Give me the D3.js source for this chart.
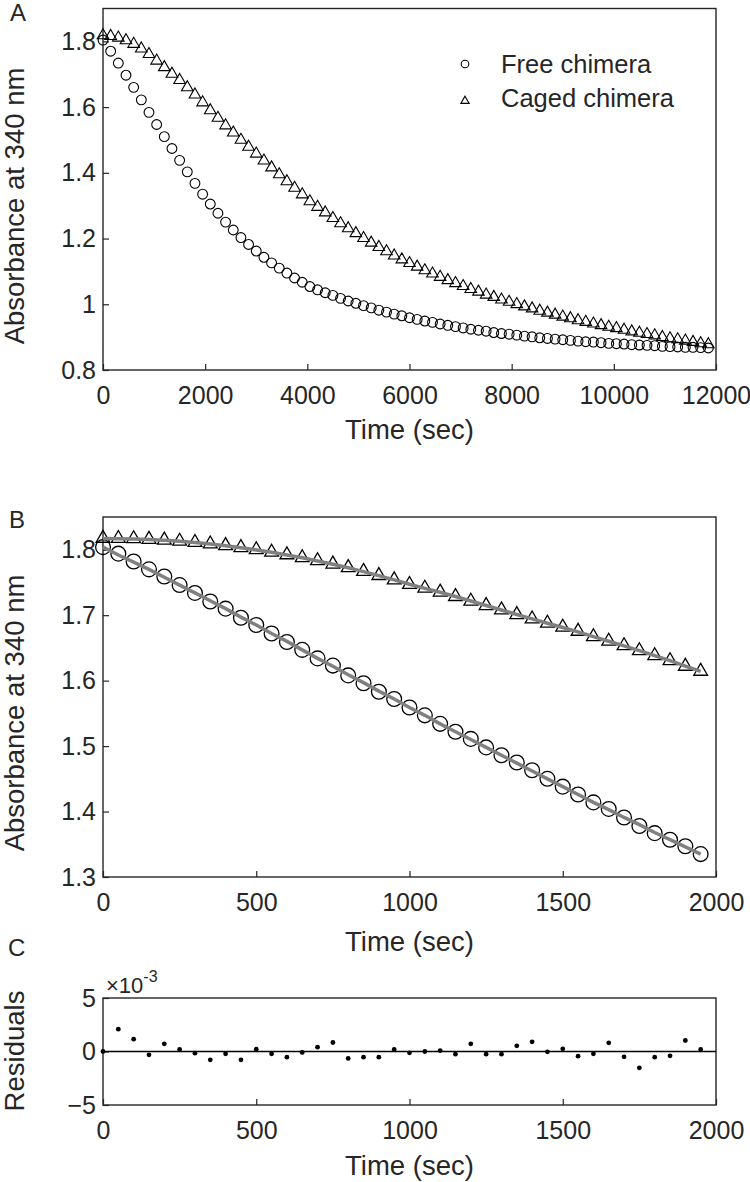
<!DOCTYPE html>
<html><head><meta charset="utf-8">
<script src="https://cdnjs.cloudflare.com/ajax/libs/d3/7.8.5/d3.min.js"></script>
<style>body{margin:0;background:#fff}svg{display:block}text{font-family:"Liberation Sans",Arial,sans-serif;fill:#262626}</style>
</head><body>
<script>
// ---------- data ----------
const timeA = [0,150,300,450,600,750,900,1050,1200,1350,1500,1650,1800,1950,
 2100,2250,2400,2550,2700,2850,3000,3150,3300,3450,3600,3750,3900,4050,
 4200,4350,4500,4650,4800,4950,5100,5250,5400,5550,5700,5850,6000,6150,6300,6450,6600,6750,6900,7050,7200,7350,
 7500,7650,7800,7950,8100,8250,8400,8550,8700,8850,9000,9150,9300,9450,9600,9750,9900,10050,10200,10350,
 10500,10650,10800,10950,11100,11250,11400,11550,11700,11850];
const freeA = [1.804,1.770,1.734,1.697,1.660,1.622,1.584,1.547,1.510,1.474,1.438,1.403,1.368,1.335,
 1.305,1.277,1.250,1.226,1.203,1.182,1.162,1.143,1.126,1.110,1.095,1.080,1.067,1.054,
 1.044,1.035,1.027,1.018,1.010,1.003,0.996,0.989,0.982,0.976,0.970,0.965,0.959,0.954,0.949,0.945,0.940,0.936,0.932,0.928,0.924,0.921,
 0.918,0.914,0.911,0.909,0.906,0.903,0.901,0.898,0.896,0.894,0.892,0.890,0.888,0.886,0.885,0.883,0.881,0.880,0.879,0.877,
 0.876,0.875,0.874,0.872,0.871,0.870,0.869,0.869,0.868,0.867];
const cagedA = [1.818,1.816,1.811,1.803,1.792,1.778,1.761,1.741,1.721,1.701,1.682,1.660,1.638,1.614,
 1.590,1.567,1.544,1.522,1.500,1.479,1.458,1.437,1.416,1.395,1.374,1.354,1.334,1.313,
 1.296,1.279,1.262,1.246,1.231,1.216,1.201,1.187,1.174,1.161,1.148,1.136,1.125,
 1.114,1.103,1.093,1.083,1.073,1.064,1.055,1.046,1.038,1.029,1.022,1.014,1.007,
 1.000,0.993,0.987,0.980,0.974,0.968,0.962,0.957,0.951,0.946,0.941,0.936,0.931,
 0.927,0.922,0.917,0.913,0.909,0.905,0.900,0.896,0.893,0.889,0.885,0.881,0.878];

const timeB = [0,50,100,150,200,250,300,350,400,450,500,550,600,650,700,750,800,850,900,950,
 1000,1050,1100,1150,1200,1250,1300,1350,1400,1450,1500,1550,1600,1650,1700,1750,1800,1850,1900,1950];
const freeB = [1.804,1.794,1.782,1.770,1.759,1.746,1.734,1.721,1.710,1.696,1.685,1.672,1.659,1.647,1.634,1.623,1.608,1.596,1.583,1.572,
 1.559,1.547,1.534,1.522,1.511,1.498,1.486,1.475,1.463,1.450,1.438,1.426,1.414,1.404,1.391,1.378,1.367,1.357,1.347,1.335];
const fitFreeB = [1.804,1.792,1.781,1.770,1.758,1.746,1.734,1.722,1.710,1.697,1.685,1.672,1.660,1.647,1.634,1.622,1.609,1.597,1.584,1.572,
 1.559,1.547,1.534,1.522,1.510,1.498,1.486,1.474,1.462,1.450,1.438,1.426,1.414,1.403,1.391,1.380,1.368,1.357,1.346,1.335];
const cagedB = [1.8175,1.8173,1.8168,1.8159,1.8147,1.8131,1.8112,1.8089,1.8063,1.8033,1.8000,1.7963,1.7923,1.7879,1.7832,1.7781,1.7727,1.7669,1.7606,1.7540,
 1.7469,1.7413,1.7352,1.7285,1.7214,1.7147,1.7081,1.7009,1.6943,1.6877,1.6816,1.6754,1.6672,1.6602,1.6534,1.6458,1.6381,1.6305,1.6219,1.6143];
const fitCagedB = [1.8170,1.8168,1.8163,1.8155,1.8143,1.8128,1.8109,1.8086,1.8060,1.8030,1.7997,1.7960,1.7920,1.7876,1.7829,1.7778,1.7724,1.7666,1.7604,1.7540,
 1.7472,1.7410,1.7350,1.7285,1.7216,1.7148,1.7080,1.7010,1.6944,1.6877,1.6812,1.6746,1.6672,1.6602,1.6532,1.6458,1.6382,1.6305,1.6222,1.6140];
const residuals = [0,2.09,1.15,-0.31,0.72,0.19,-0.16,-0.78,-0.22,-0.78,0.22,-0.22,-0.53,-0.09,0.40,0.84,-0.65,-0.53,-0.53,0.19,
 -0.12,0,0.09,-0.25,0.72,-0.25,-0.25,0.53,0.90,-0.03,0.25,-0.44,-0.22,0.81,-0.50,-1.53,-0.53,-0.40,1.03,0.19];

const xTicksA = [0,2000,4000,6000,8000,10000,12000];
const yTicksA = [0.8,1,1.2,1.4,1.6,1.8];
const xTicksB = [0,500,1000,1500,2000];
const yTicksB = [1.3,1.4,1.5,1.6,1.7,1.8];
const yTicksC = [-5,0,5];
const seriesNames = ["Free chimera","Caged chimera"];

// ---------- drawing ----------
const INK = "#262626";
const svg = d3.select("body").append("svg").attr("width",750).attr("height",1182);
svg.append("rect").attr("width",750).attr("height",1182).attr("fill","#fff");

const L = 103, R = 716;
function frame(x, y, xt, yt, ytFmt, top, bottom, xlabY, ylab, ylabY) {
  const g = svg.append("g");
  const ax = g.append("g").attr("transform",`translate(0,${bottom})`)
    .call(d3.axisBottom(x).tickValues(xt).tickSize(-6).tickFormat(d3.format("d")));
  ax.select(".domain").remove();
  ax.selectAll("line").attr("stroke",INK).attr("stroke-width",1.2);
  ax.selectAll("text").attr("dy",null).attr("y",34).attr("font-size",25).attr("fill",INK);
  const ay = g.append("g").attr("transform",`translate(${L},0)`)
    .call(d3.axisLeft(y).tickValues(yt).tickSize(-6).tickPadding(7).tickFormat(ytFmt));
  ay.select(".domain").remove();
  ay.selectAll("line").attr("stroke",INK).attr("stroke-width",1.2);
  ay.selectAll("text").attr("font-size",25).attr("fill",INK);
  g.selectAll("text").style("font-family",'"Liberation Sans",Arial,sans-serif');
  g.append("rect").attr("x",L).attr("y",top).attr("width",R-L).attr("height",bottom-top)
    .attr("fill","none").attr("stroke",INK).attr("stroke-width",1.4);
  g.append("text").attr("x",(L+R)/2).attr("y",xlabY).attr("text-anchor","middle")
    .attr("font-size",27.5).text("Time (sec)");
  g.append("text").attr("transform",`translate(24,${ylabY}) rotate(-90)`).attr("text-anchor","middle")
    .attr("font-size",27.5).text(ylab);
  return g;
}
const fmtA = d => d===1 ? "1" : d3.format(".1f")(d);

// Panel A
const xA = d3.scaleLinear().domain([0,12000]).range([L,R]);
const yA = d3.scaleLinear().domain([0.8,1.9]).range([370,8.5]);
frame(xA,yA,xTicksA,yTicksA,fmtA,8.5,370,439,"Absorbance at 340 nm",206);
const triA = d3.symbol(d3.symbolTriangle, 58);
const gA = svg.append("g");
gA.selectAll(".c").data(timeA).join("circle")
  .attr("cx",(d)=>xA(d)).attr("cy",(d,i)=>yA(freeA[i])).attr("r",4.9)
  .attr("fill","none").attr("stroke","#000").attr("stroke-width",1.1);
gA.selectAll(".t").data(timeA).join("path")
  .attr("d",triA).attr("transform",(d,i)=>`translate(${xA(d)},${yA(cagedA[i])})`)
  .attr("fill","none").attr("stroke","#000").attr("stroke-width",1.1);
svg.append("text").attr("x",10).attr("y",21).attr("font-size",24).text("A");

// Legend
const lg = svg.append("g");
lg.append("circle").attr("cx",465).attr("cy",64).attr("r",3.8).attr("fill","none").attr("stroke","#000").attr("stroke-width",1.1);
lg.append("path").attr("d",d3.symbol(d3.symbolTriangle,30)()).attr("transform","translate(465,101)")
  .attr("fill","none").attr("stroke","#000").attr("stroke-width",1.1);
lg.selectAll("text").data(seriesNames).join("text")
  .attr("x",501).attr("y",(d,i)=>73+i*34).attr("font-size",25.5).text(d=>d);

// Panel B
const xB = d3.scaleLinear().domain([0,2000]).range([L,R]);
const yB = d3.scaleLinear().domain([1.3,1.85]).range([877,517]);
frame(xB,yB,xTicksB,yTicksB,d3.format(".1f"),517,877,951,"Absorbance at 340 nm",713);
const gB = svg.append("g");
gB.selectAll("circle").data(timeB).join("circle")
  .attr("cx",d=>xB(d)).attr("cy",(d,i)=>yB(freeB[i])).attr("r",7.4)
  .attr("fill","none").attr("stroke","#000").attr("stroke-width",1.3);
const triB = d3.symbol(d3.symbolTriangle, 82);
gB.selectAll("path.t").data(timeB).join("path").attr("class","t")
  .attr("d",triB).attr("transform",(d,i)=>`translate(${xB(d)},${yB(cagedB[i])})`)
  .attr("fill","none").attr("stroke","#000").attr("stroke-width",1.3);
const lineB = (arr)=>d3.line().x(d=>xB(d)).y((d,i)=>yB(arr[i]))(timeB);
gB.append("path").attr("d",lineB(fitFreeB)).attr("fill","none").attr("stroke","#808080").attr("stroke-width",3.5);
gB.append("path").attr("d",lineB(fitCagedB)).attr("fill","none").attr("stroke","#808080").attr("stroke-width",3.5);
svg.append("text").attr("x",9).attr("y",528).attr("font-size",24).text("B");

// Panel C
const yC = d3.scaleLinear().domain([-5,5]).range([1105,998]);
frame(xB,yC,xTicksB,yTicksC,d3.format("d"),998,1105,1175,"Residuals",1051);
const gC = svg.append("g");
gC.append("line").attr("x1",xB(0)).attr("x2",xB(2000)).attr("y1",yC(0)).attr("y2",yC(0))
  .attr("stroke","#000").attr("stroke-width",1.3);
gC.selectAll("circle").data(timeB).join("circle")
  .attr("cx",d=>xB(d)).attr("cy",(d,i)=>yC(residuals[i])).attr("r",2.4).attr("fill","#000");
const ex = svg.append("text").attr("x",106).attr("y",993).attr("font-size",22);
ex.append("tspan").text("\u00d710");
ex.append("tspan").attr("dy",-11).attr("font-size",16).text("-3");
svg.append("text").attr("x",8).attr("y",956).attr("font-size",24).text("C");
</script>
</body></html>
